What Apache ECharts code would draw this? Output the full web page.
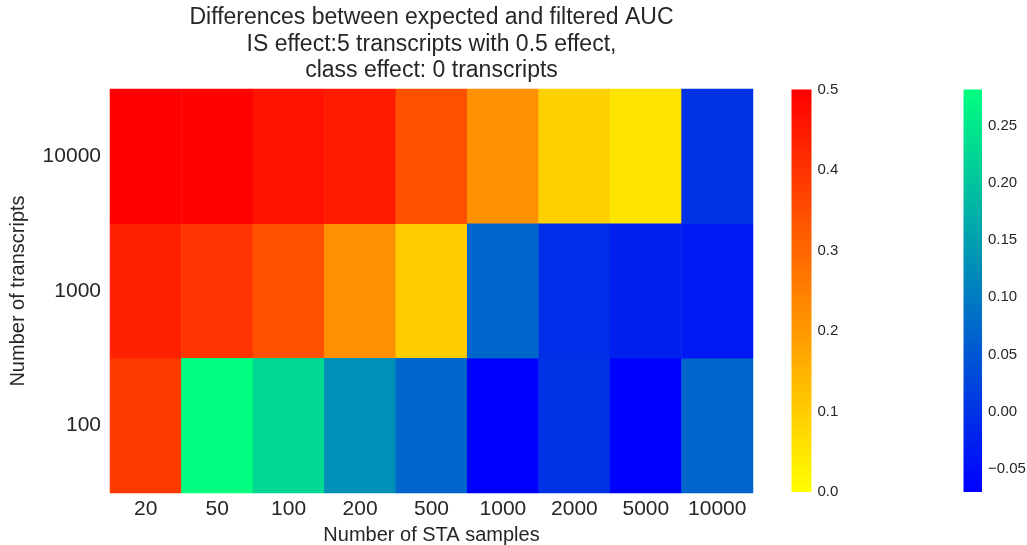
<!DOCTYPE html>
<html>
<head>
<meta charset="utf-8">
<script src="https://cdn.jsdelivr.net/npm/echarts@6/dist/echarts.min.js"></script>
<style>
  html, body { margin: 0; padding: 0; background: #ffffff; }
  #chart { width: 1027px; height: 545px; }
</style>
</head>
<body>
<div id="chart"></div>
<script>
// Columns: number of STA samples; rows: number of transcripts (bottom to top)
const staSamples = ['20', '50', '100', '200', '500', '1000', '2000', '5000', '10000'];
const transcripts = ['100', '1000', '10000'];

// AUC differences drawn on the yellow-red scale (null = drawn on the blue-green scale)
const redScaleRows = {
  '10000': [0.500, 0.497, 0.465, 0.449, 0.343, 0.218, 0.092, 0.053, null],
  '1000':  [0.437, 0.398, 0.343, 0.218, 0.100, null, null, null, null],
  '100':   [0.386, null, null, null, null, null, null, null, null]
};
// AUC differences drawn on the blue-green scale (null = drawn on the yellow-red scale)
const blueScaleRows = {
  '10000': [null, null, null, null, null, null, null, null, 0.000],
  '1000':  [null, null, null, null, null, 0.070, -0.007, -0.026, -0.037],
  '100':   [null, 0.282, 0.228, 0.129, 0.070, -0.0705, 0.000, -0.0705, 0.070]
};

const redRange = [0, 0.5];
const blueRange = [-0.0705, 0.282];
const blueTicks = [-0.05, 0, 0.05, 0.10, 0.15, 0.20, 0.25];

function toCells(rows) {
  const out = [];
  transcripts.forEach((t, yi) => {
    rows[t].forEach((v, xi) => { if (v !== null) out.push([xi, yi, v]); });
  });
  return out;
}

const textColor = '#262626';
const fontFamily = '"Liberation Sans", Arial, sans-serif';

const redGradient = new echarts.graphic.LinearGradient(0, 0, 0, 1, [
  { offset: 0, color: '#ff0000' }, { offset: 1, color: '#ffff00' }
]);
const blueGradient = new echarts.graphic.LinearGradient(0, 0, 0, 1, [
  { offset: 0, color: '#00ff80' }, { offset: 1, color: '#0000ff' }
]);

const fmtSigned = (d) => (v) => (v < 0 ? '\u2212' : '') + Math.abs(v).toFixed(d);

const chart = echarts.init(document.getElementById('chart'), null, { renderer: 'canvas' });
chart.setOption({
  backgroundColor: '#ffffff',
  animation: false,
  textStyle: { fontFamily: fontFamily },
  graphic: [{
    type: 'text',
    x: 431.5, y: 4.5,
    style: {
      text: 'Differences between expected and filtered AUC\nIS effect:5 transcripts with 0.5 effect,\nclass effect: 0 transcripts',
      textAlign: 'center',
      fill: textColor,
      font: '23px ' + fontFamily,
      lineHeight: 26.5
    }
  }],
  grid: [
    { left: 110, right: 274, top: 89, bottom: 52, outerBoundsMode: 'none', containLabel: false },
    { left: 791.5, width: 20, top: 89.5, height: 402.5, show: true, backgroundColor: redGradient, borderWidth: 0, outerBoundsMode: 'none' },
    { left: 963.5, width: 18.5, top: 89.5, height: 402.5, show: true, backgroundColor: blueGradient, borderWidth: 0, outerBoundsMode: 'none' }
  ],
  xAxis: [
    {
      gridIndex: 0, type: 'category', data: staSamples,
      axisLine: { show: false }, axisTick: { show: false }, splitLine: { show: false },
      axisLabel: { color: textColor, fontSize: 21, margin: 6, interval: 0, hideOverlap: false },
      name: 'Number of STA samples', nameLocation: 'middle', nameGap: 32,
      nameTextStyle: { color: textColor, fontSize: 20 }
    },
    { gridIndex: 1, type: 'value', show: false, min: 0, max: 1 },
    { gridIndex: 2, type: 'value', show: false, min: 0, max: 1 }
  ],
  yAxis: [
    {
      gridIndex: 0, type: 'category', data: transcripts,
      axisLine: { show: false }, axisTick: { show: false }, splitLine: { show: false },
      axisLabel: { color: textColor, fontSize: 21, margin: 9, interval: 0 },
      name: 'Number of transcripts', nameLocation: 'middle', nameGap: 82,
      nameTextStyle: { color: textColor, fontSize: 20 }
    },
    {
      gridIndex: 1, type: 'value', position: 'right', min: redRange[0], max: redRange[1],
      interval: 0.1,
      axisLine: { show: false }, axisTick: { show: false }, splitLine: { show: false },
      axisLabel: { color: textColor, fontSize: 15, margin: 6, formatter: fmtSigned(1) }
    },
    {
      gridIndex: 2, type: 'value', position: 'right', min: blueRange[0], max: blueRange[1],
      axisLine: { show: false }, axisTick: { show: false }, splitLine: { show: false },
      axisLabel: {
        color: textColor, fontSize: 15, margin: 6, formatter: fmtSigned(2),
        customValues: blueTicks
      }
    }
  ],
  visualMap: [
    {
      type: 'continuous', show: false, seriesIndex: 0,
      min: redRange[0], max: redRange[1],
      inRange: { color: ['#ffff00', '#ff0000'] }
    },
    {
      type: 'continuous', show: false, seriesIndex: 1,
      min: blueRange[0], max: blueRange[1],
      inRange: { color: ['#0000ff', '#00ff80'] }
    }
  ],
  series: [
    {
      type: 'heatmap', xAxisIndex: 0, yAxisIndex: 0,
      data: toCells(redScaleRows),
      itemStyle: { borderWidth: 0 },
      emphasis: { disabled: true }
    },
    {
      type: 'heatmap', xAxisIndex: 0, yAxisIndex: 0,
      data: toCells(blueScaleRows),
      itemStyle: { borderWidth: 0 },
      emphasis: { disabled: true }
    }
  ]
});
</script>
</body>
</html>
